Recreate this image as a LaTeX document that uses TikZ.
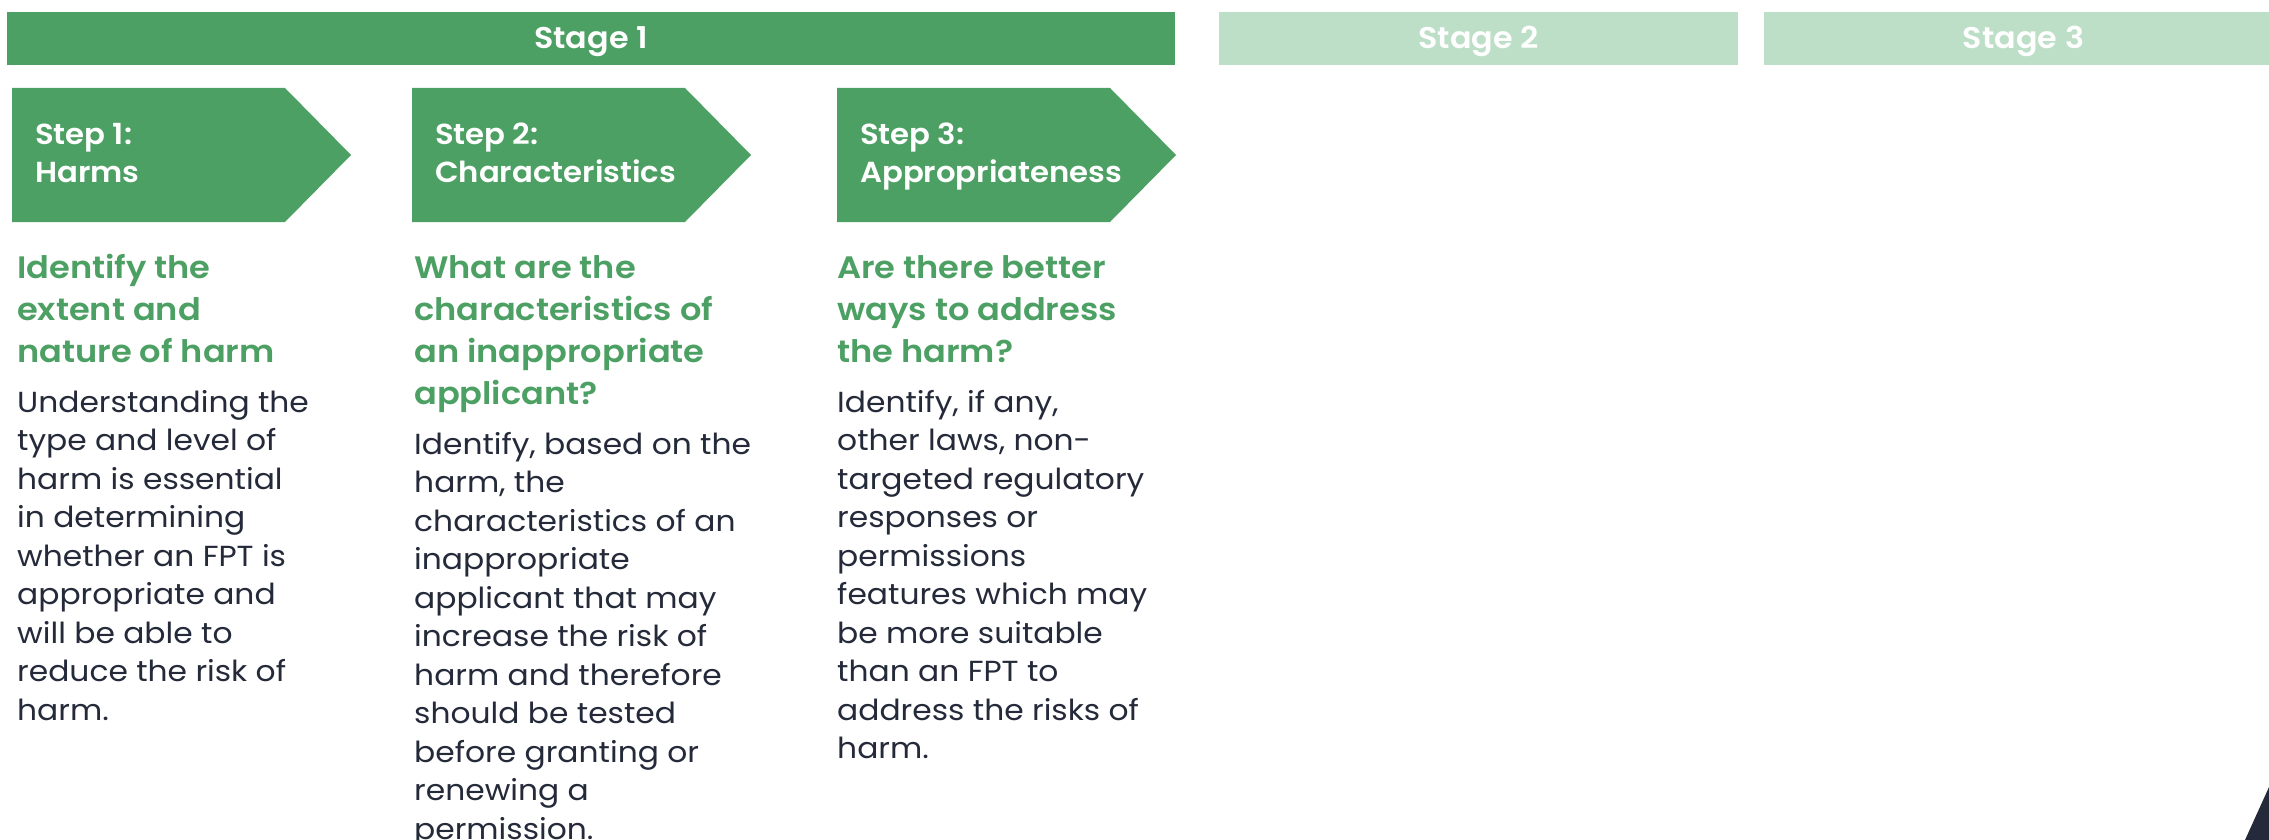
\documentclass[tikz,border=0pt]{standalone}
\usepackage{fontspec}
\setmainfont{Poppins}
\newfontfamily\headfont{Poppins SemiBold}[FakeStretch=1.06]
\newfontfamily\titlefont{Poppins SemiBold}[FakeStretch=1.085]
\newfontfamily\bodyfont{Poppins}[FakeStretch=1.08]
\definecolor{darkgreen}{RGB}{77,160,99}
\definecolor{palegreen}{RGB}{190,223,199}
\definecolor{navy}{RGB}{36,42,57}

\begin{document}
\begin{tikzpicture}[x=1pt,y=-1pt,
stagebar/.style={rectangle, inner sep=0pt, minimum height=53pt, text=white, text height=21pt, text depth=0pt, font=\fontsize{30}{34}\headfont},
current/.style={stagebar, fill=darkgreen},
later/.style={stagebar, fill=palegreen, minimum width=519pt},
steptext/.style={inner sep=0pt, anchor=base west, align=left, text=white, font=\fontsize{29}{38.5}\headfont},
heading/.style={inner sep=0pt, anchor=base west, align=left, text=darkgreen, font=\fontsize{31}{42}\titlefont},
bodytext/.style={inner sep=0pt, anchor=base west, align=left, text=navy, font=\fontsize{29}{38.5}\bodyfont},
]
\clip (0,0) rectangle (2269,840);
\fill[white] (0,0) rectangle (2269,840);
% stage bars
\node[current, minimum width=1168pt] (stage1) at (591,38.5) {Stage 1};
\node[later] (stage2) at (1478.5,38.5) {Stage 2};
\node[later] (stage3) at (2023.5,38.5) {Stage 3};
% step chevrons (nodes sit on the baseline of their last line)
\foreach \x/\n/\t in {12/1/Harms, 412/2/Characteristics, 837/3/Appropriateness}{
  \fill[darkgreen] (\x,88) -- (\x+273,88) -- (\x+339,155) -- (\x+273,222) -- (\x,222) -- cycle;
  \node[steptext] (step\n) at (\x+23,182.5) {Step \n:\\\t};
}
% column 1
\node[heading] (head1) at (17,362) {Identify the\\extent and\\nature of harm};
\node[bodytext] (body1) at (17,720) {Understanding the\\type and level of\\harm is essential\\in determining\\whether an FPT is\\appropriate and\\will be able to\\reduce the risk of\\harm.};
% column 2
\node[heading] (head2) at (414,404) {What are the\\characteristics of\\an inappropriate\\applicant?};
\node[bodytext] (body2) at (414,839) {Identify, based on the\\harm, the\\characteristics of an\\inappropriate\\applicant that may\\increase the risk of\\harm and therefore\\should be tested\\before granting or\\renewing a\\permission.};
% column 3
\node[heading] (head3) at (837,362) {Are there better\\ways to address\\the harm?};
\node[bodytext] (body3) at (837,758.5) {Identify, if any,\\other laws, non-\\targeted regulatory\\responses or\\permissions\\features which may\\be more suitable\\than an FPT to\\address the risks of\\harm.};
% corner
\fill[navy] (2269,787) -- (2245,840) -- (2269,840) -- cycle;
\end{tikzpicture}
\end{document}
